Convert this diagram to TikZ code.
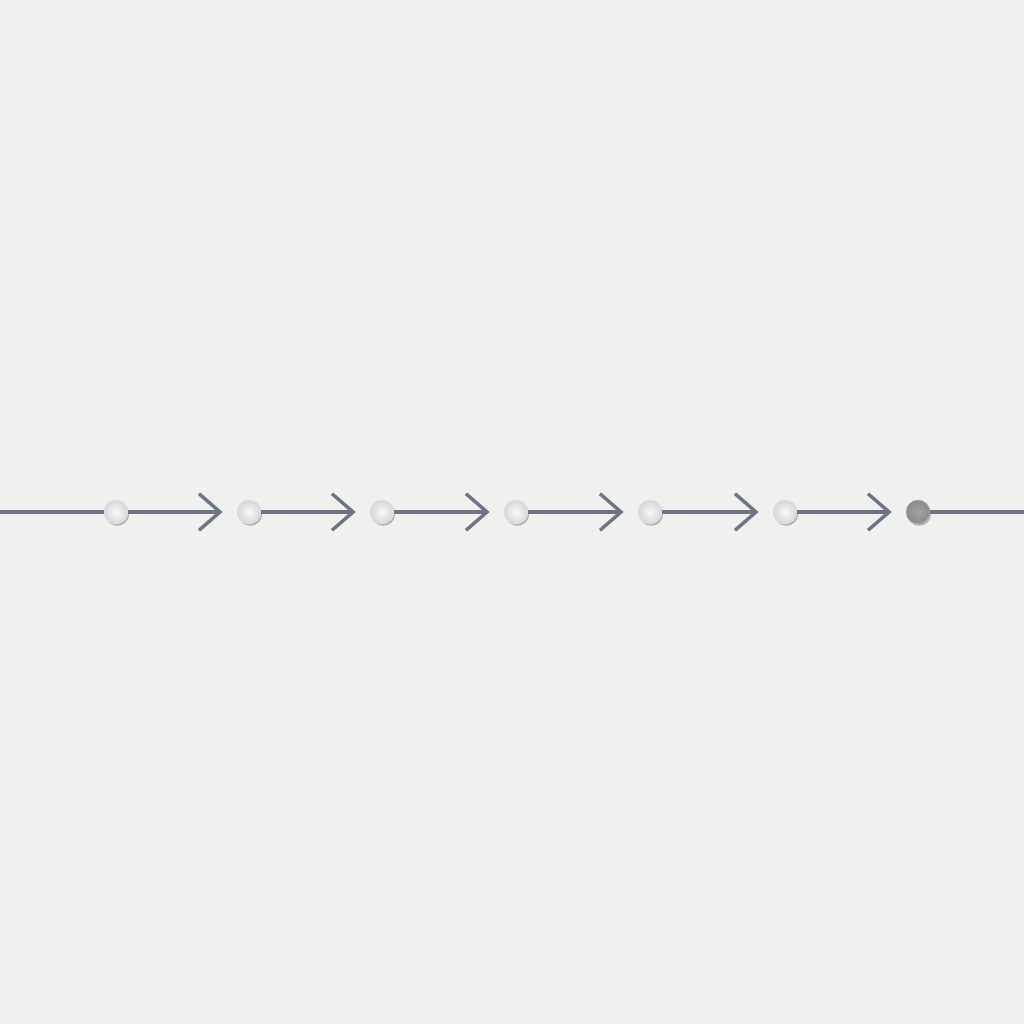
\documentclass[tikz,border=0pt]{standalone}
\usetikzlibrary{arrows.meta,shadows}
\definecolor{bg}{HTML}{F0F0EE}
\definecolor{flow}{HTML}{6C7486}
\definecolor{dotfill}{HTML}{D6D6D6}
\definecolor{dotdark}{HTML}{8A8A8A}
\begin{document}
\begin{tikzpicture}[x=0.25mm,y=-0.25mm,
  dot/.style={circle,minimum size=17pt,inner sep=0pt,inner color=white!85!dotfill,outer color=dotfill,draw=white!75!gray,line width=0.5pt,
    drop shadow={shadow xshift=0.9pt,shadow yshift=-1.3pt,opacity=0.25,fill=black}},
  enddot/.style={dot,inner color=dotdark!80!white,outer color=dotdark,draw=gray!60},
  flowline/.style={draw=flow,line width=2.4pt},
  flowarrow/.style={flowline,-{Straight Barb[length=15pt,width=26pt,line width=2.4pt]},shorten >=10pt}]
\fill[bg] (0,0) rectangle (1024,1024);
\useasboundingbox (0,0) rectangle (1024,1024);
\coordinate (L) at (0,512);
\coordinate (R) at (1024,512);
\node[dot] (d1) at (116,512) {};
\node[dot] (d2) at (249,512) {};
\node[dot] (d3) at (382,512) {};
\node[dot] (d4) at (516,512) {};
\node[dot] (d5) at (650,512) {};
\node[dot] (d6) at (785,512) {};
\node[enddot] (d7) at (918,512) {};
\draw[flowline] (L) -- (d1);
\draw[flowarrow] (d1) -- (d2);
\draw[flowarrow] (d2) -- (d3);
\draw[flowarrow] (d3) -- (d4);
\draw[flowarrow] (d4) -- (d5);
\draw[flowarrow] (d5) -- (d6);
\draw[flowarrow] (d6) -- (d7);
\draw[flowline] (d7) -- (R);
\end{tikzpicture}
\end{document}
